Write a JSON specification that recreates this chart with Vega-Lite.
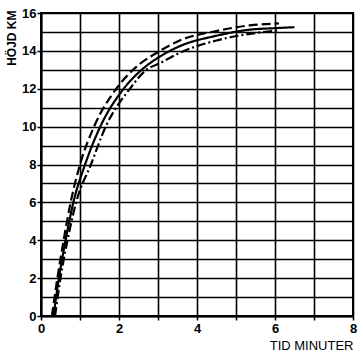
{
  "$schema": "https://vega.github.io/schema/vega-lite/v6.json",
  "autosize": "none",
  "width": 312,
  "height": 303,
  "padding": {"left": 41, "top": 13, "right": 10, "bottom": 42},
  "background": "white",
  "config": {
    "view": {"stroke": "black", "strokeWidth": 2},
    "font": "Liberation Sans"
  },
  "data": {
    "values": [
      {"s": "dash", "t": 0.28, "h": 0},
      {"s": "dash", "t": 0.42, "h": 2},
      {"s": "dash", "t": 0.58, "h": 4},
      {"s": "dash", "t": 0.76, "h": 6},
      {"s": "dash", "t": 1.0, "h": 8},
      {"s": "dash", "t": 1.36, "h": 10},
      {"s": "dash", "t": 1.93, "h": 12},
      {"s": "dash", "t": 2.36, "h": 13},
      {"s": "dash", "t": 3.05, "h": 14},
      {"s": "dash", "t": 3.56, "h": 14.55},
      {"s": "dash", "t": 4.5, "h": 15.05},
      {"s": "dash", "t": 5.36, "h": 15.35},
      {"s": "dash", "t": 6.1, "h": 15.45},
      {"s": "solid", "t": 0.32, "h": 0},
      {"s": "solid", "t": 0.46, "h": 2},
      {"s": "solid", "t": 0.63, "h": 4},
      {"s": "solid", "t": 0.83, "h": 6},
      {"s": "solid", "t": 1.13, "h": 8},
      {"s": "solid", "t": 1.52, "h": 10},
      {"s": "solid", "t": 2.12, "h": 12},
      {"s": "solid", "t": 2.58, "h": 13},
      {"s": "solid", "t": 3.05, "h": 13.7},
      {"s": "solid", "t": 3.56, "h": 14.25},
      {"s": "solid", "t": 4.5, "h": 14.8},
      {"s": "solid", "t": 5.36, "h": 15.12},
      {"s": "solid", "t": 6.0, "h": 15.2},
      {"s": "solid", "t": 6.5, "h": 15.25},
      {"s": "dashdot", "t": 0.36, "h": 0},
      {"s": "dashdot", "t": 0.5, "h": 2},
      {"s": "dashdot", "t": 0.68, "h": 4},
      {"s": "dashdot", "t": 0.9, "h": 6},
      {"s": "dashdot", "t": 1.28, "h": 8},
      {"s": "dashdot", "t": 1.66, "h": 10},
      {"s": "dashdot", "t": 2.28, "h": 12},
      {"s": "dashdot", "t": 2.7, "h": 13},
      {"s": "dashdot", "t": 3.05, "h": 13.35},
      {"s": "dashdot", "t": 3.56, "h": 13.9},
      {"s": "dashdot", "t": 4.5, "h": 14.55},
      {"s": "dashdot", "t": 5.36, "h": 14.9},
      {"s": "dashdot", "t": 6.08, "h": 15.08}
    ]
  },
  "mark": {"type": "line", "interpolate": "monotone", "strokeWidth": 2.2, "color": "black"},
  "encoding": {
    "x": {
      "field": "t", "type": "quantitative",
      "scale": {"domain": [0, 8], "nice": false, "zero": false},
      "axis": {
        "title": "TID MINUTER",
        "titleAnchor": "end",
        "titleFont": "Liberation Sans",
        "titleFontSize": 13,
        "titleFontWeight": "normal",
        "titleColor": "black",
        "titlePadding": 4,
        "values": [0, 0.5, 1, 1.5, 2, 2.5, 3, 3.5, 4, 4.5, 5, 5.5, 6, 6.5, 7, 7.5, 8],
        "format": "d",
        "labelExpr": "datum.value % 2 === 0 ? datum.label : ''",
        "labelFontSize": 13,
        "labelFontWeight": "bold",
        "labelColor": "black",
        "labelPadding": 2,
        "labelFlush": false,
        "tickSize": 4,
        "tickColor": "black",
        "tickWidth": 1.5,
        "tickOpacity": {"condition": {"test": "datum.value % 1 === 0", "value": 1}, "value": 0},
        "domainColor": "black",
        "domainWidth": 2,
        "grid": true,
        "gridColor": "black",
        "gridOpacity": 1,
        "gridWidth": 1.6
      }
    },
    "y": {
      "field": "h", "type": "quantitative",
      "scale": {"domain": [0, 16], "nice": false, "zero": false},
      "axis": {
        "title": "HÖJD KM",
        "titleAnchor": "end",
        "titleFont": "Liberation Sans",
        "titleFontSize": 12,
        "titleFontWeight": "bold",
        "titleColor": "black",
        "titleX": -23,
        "titleY": -3,
        "titleAngle": -90,
        "titleAlign": "right",
        "titleBaseline": "bottom",
        "values": [0, 1, 2, 3, 4, 5, 6, 7, 8, 9, 10, 11, 12, 13, 14, 15, 16],
        "format": "d",
        "labelExpr": "datum.value % 2 === 0 ? datum.label : ''",
        "labelFontSize": 13,
        "labelFontWeight": "bold",
        "labelColor": "black",
        "labelPadding": 1,
        "labelFlush": false,
        "tickSize": 4,
        "tickColor": "black",
        "tickWidth": 1.5,
        "tickOpacity": {"condition": {"test": "datum.value % 2 === 0", "value": 1}, "value": 0},
        "domainColor": "black",
        "domainWidth": 2,
        "grid": true,
        "gridColor": "black",
        "gridOpacity": 1,
        "gridWidth": 1.6
      }
    },
    "strokeDash": {
      "field": "s", "type": "nominal",
      "scale": {"domain": ["dash", "solid", "dashdot"], "range": [[9, 4], [1, 0], [9, 3, 2, 3]]},
      "legend": null
    }
  }
}
